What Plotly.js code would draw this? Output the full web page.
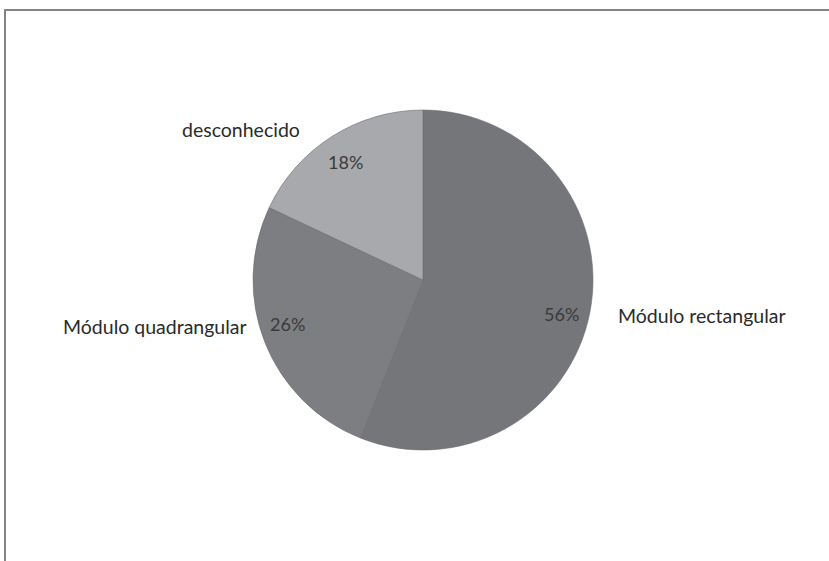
<!DOCTYPE html>
<html><head><meta charset="utf-8">
<script src="https://cdn.plot.ly/plotly-3.0.1.min.js"></script>
<style>
html,body{margin:0;padding:0;background:#fff;}
#wrap{position:relative;width:829px;height:561px;overflow:hidden;}
#chart{position:absolute;left:0;top:0;width:829px;height:561px;}
#frame{position:absolute;left:4px;top:9px;width:840px;height:600px;border-top:2px solid #858585;border-left:2px solid #858585;pointer-events:none;}
</style></head>
<body><div id="wrap"><div id="chart"></div><div id="frame"></div></div>
<script>
const labels = ["Módulo rectangular", "Módulo quadrangular", "desconhecido"];
const values = [56, 26, 18];
const colors = ["#75767a", "#7d7e82", "#a8a9ac"];

const total = values.reduce((a, b) => a + b, 0);
const pct = values.map(v => Math.round(100 * v / total) + "%");

const font = "Lato, 'Open Sans', sans-serif";
const data = [{
  type: "pie",
  labels: labels,
  values: values,
  sort: false,
  direction: "clockwise",
  rotation: 0,
  marker: {colors: colors, line: {color: "#6a6b6e", width: 0.6}},
  textinfo: "none",
  hoverinfo: "label+percent",
  domain: {x: [0.3052, 0.7153], y: [0.1979, 0.8039]},
  showlegend: false
}];

const labelFont = {family: font, size: 19.5, color: "#2a2a2a"};
const pctFont = {family: font, size: 18, color: "#3a3a3a"};
const ann = (text, px, py, anchor, f) => ({text: text, x: px / 829, y: 1 - py / 561, xref: "paper", yref: "paper", xanchor: anchor, yanchor: "middle", showarrow: false, font: f});
const layout = {
  width: 829, height: 561,
  margin: {l: 0, r: 0, t: 0, b: 0},
  paper_bgcolor: "#ffffff",
  showlegend: false,
  annotations: [
    ann(labels[0], 616, 315, "left", labelFont),
    ann(labels[1], 249, 326, "right", labelFont),
    ann(labels[2], 241, 130, "center", labelFont),
    ann(pct[0], 561, 314, "center", pctFont),
    ann(pct[1], 287, 324, "center", pctFont),
    ann(pct[2], 345, 162, "center", pctFont)
  ]
};
Plotly.newPlot("chart", data, layout, {displayModeBar: false, staticPlot: true});
</script></body></html>
